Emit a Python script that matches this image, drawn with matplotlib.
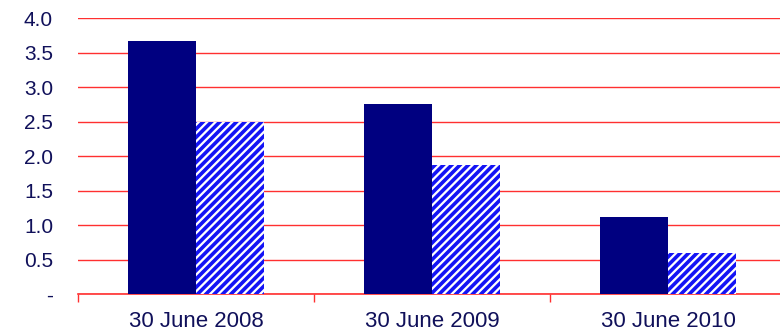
import matplotlib
matplotlib.use("Agg")
import matplotlib.pyplot as plt
import numpy as np

# 两组数据：实心深蓝与斜纹蓝
categories = ["30 June 2008", "30 June 2009", "30 June 2010"]
solid_vals = [3.67, 2.75, 1.12]
hatched_vals = [2.5, 1.87, 0.59]
y_ticks = [0, 0.5, 1.0, 1.5, 2.0, 2.5, 3.0, 3.5, 4.0]
y_labels = ["-", "0.5", "1.0", "1.5", "2.0", "2.5", "3.0", "3.5", "4.0"]

plt.rcParams["font.family"] = ["Liberation Sans", "DejaVu Sans"]
plt.rcParams["hatch.linewidth"] = 2.6

W, H = 780, 334
fig = plt.figure(figsize=(W / 100, H / 100), dpi=100)
left, right, top, bottom = 78, 786, 18, 294
ax = fig.add_axes([left / W, 1 - bottom / H, (right - left) / W, (bottom - top) / H])

x = np.arange(len(categories))
bw = 0.288
ax.bar(x - bw / 2, solid_vals, bw, color="#000080", linewidth=0, zorder=3)
ax.bar(x + bw / 2, hatched_vals, bw, color="white", edgecolor="#1414F5",
       hatch="////", linewidth=0, zorder=3)

ax.set_xlim(-0.5, len(categories) - 0.5)
ax.set_ylim(0, 4.0)
ax.set_yticks(y_ticks)
ax.set_yticklabels(y_labels)
ax.yaxis.grid(True, color="#FF3030", linewidth=1.0, zorder=0)
ax.set_axisbelow(True)

# 类别之间的刻度
ax.set_xticks(np.arange(len(categories) + 1) - 0.5)
ax.set_xticklabels([])
ax.set_xticks(x, minor=True)
ax.set_xticklabels(categories, minor=True)
ax.tick_params(axis="x", which="major", length=6, color="#FF3030", width=1)
ax.tick_params(axis="x", which="minor", length=0, pad=12, labelsize=16, labelcolor="#10105a")
ax.tick_params(axis="y", length=0, pad=18, labelsize=15, labelcolor="#10105a")

for s in ["top", "right", "left"]:
    ax.spines[s].set_visible(False)
ax.spines["bottom"].set_color("#FF3030")
ax.spines["bottom"].set_linewidth(1.2)

fig.savefig("out.png", dpi=100)
